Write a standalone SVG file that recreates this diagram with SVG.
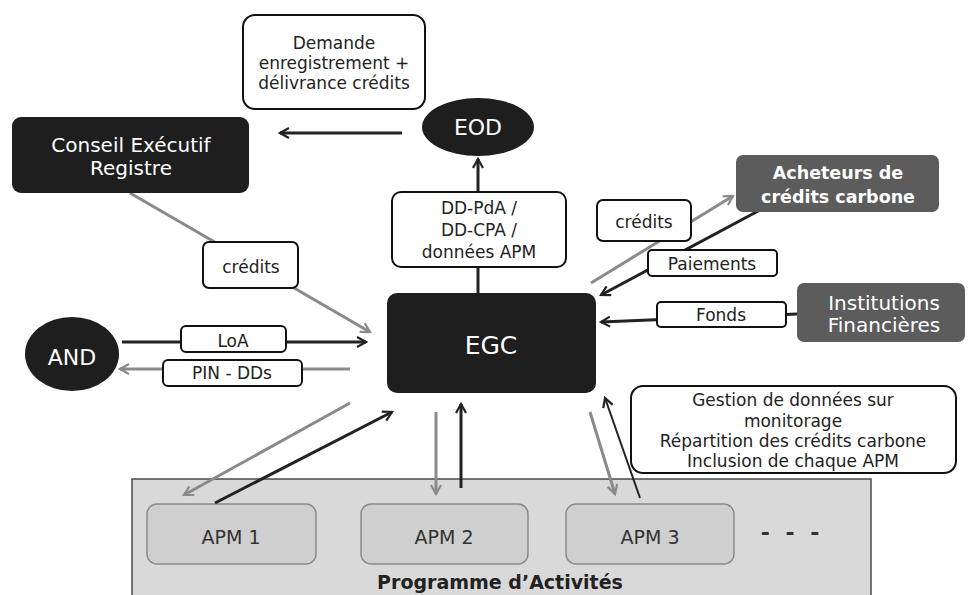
<svg xmlns="http://www.w3.org/2000/svg" width="968" height="595" viewBox="0 0 968 595">
<defs>
<marker id="ad" viewBox="0 0 12 12" refX="10" refY="6" markerWidth="12" markerHeight="12" markerUnits="userSpaceOnUse" orient="auto"><path d="M1,1 L10,6 L1,11" fill="none" stroke="#222" stroke-width="2.2"/></marker>
<marker id="ag" viewBox="0 0 12 12" refX="10" refY="6" markerWidth="12" markerHeight="12" markerUnits="userSpaceOnUse" orient="auto"><path d="M1,1 L10,6 L1,11" fill="none" stroke="#8a8a8a" stroke-width="2.2"/></marker>
</defs>
<style>
text{font-family:"DejaVu Sans","Liberation Sans",sans-serif;text-anchor:middle}
.lbl{fill:#fff;stroke:#111;stroke-width:2}
.lt{font-size:17px;fill:#222}
.dark{fill:#1e1e1e}
.grey{fill:#5c5c5c}
.wt{fill:#fff}
.cd{stroke:#222;stroke-width:3;fill:none}
.cg{stroke:#8a8a8a;stroke-width:3;fill:none}
.apm{fill:#cfcfcf;stroke:#8a8a8a;stroke-width:1.5}
</style>
<rect width="968" height="595" fill="#fff"/>

<g id="programme">
<rect x="132" y="479" width="739" height="125" fill="#d9d9d9" stroke="#4a4a4a" stroke-width="1.5"/>
<text x="500" y="589" font-size="19" font-weight="bold" fill="#222">Programme d’Activités</text>
</g>
<g id="apm1"><rect class="apm" x="147" y="504" width="169" height="60" rx="10"/><text x="231" y="544" font-size="19" fill="#333">APM 1</text></g>
<g id="apm2"><rect class="apm" x="361" y="504" width="167" height="60" rx="10"/><text x="444" y="544" font-size="19" fill="#333">APM 2</text></g>
<g id="apm3"><rect class="apm" x="566" y="504" width="168" height="60" rx="10"/><text x="650" y="544" font-size="19" fill="#333">APM 3</text></g>
<g id="dots"><text x="792" y="540" font-size="22" font-weight="bold" fill="#333" letter-spacing="4">- - -</text></g>

<g id="connectors">
<line class="cd" x1="402" y1="133" x2="280" y2="133" marker-end="url(#ad)"/>
<line class="cd" x1="478" y1="293" x2="478" y2="159" marker-end="url(#ad)"/>
<line class="cg" x1="130" y1="193" x2="370" y2="332" marker-end="url(#ag)"/>
<line class="cd" x1="122" y1="342" x2="366" y2="342" marker-end="url(#ad)"/>
<line class="cg" x1="350" y1="369" x2="120" y2="369" marker-end="url(#ag)"/>
<line class="cg" x1="591" y1="283" x2="733" y2="196" marker-end="url(#ag)"/>
<line class="cd" x1="760" y1="210" x2="601" y2="295" marker-end="url(#ad)"/>
<line class="cd" x1="797" y1="314" x2="601" y2="322" marker-end="url(#ad)"/>
<line class="cg" x1="350" y1="403" x2="184" y2="495" marker-end="url(#ag)"/>
<line class="cd" x1="215" y1="503" x2="392" y2="412" marker-end="url(#ad)"/>
<line class="cg" x1="436" y1="412" x2="436" y2="494" marker-end="url(#ag)"/>
<line class="cd" x1="461" y1="488" x2="461" y2="404" marker-end="url(#ad)"/>
<line class="cg" x1="590" y1="412" x2="615" y2="494" marker-end="url(#ag)"/>
<line x1="640" y1="498" x2="605" y2="398" stroke="#222" stroke-width="2" marker-end="url(#ad)"/>
</g>

<g id="demande"><rect class="lbl" x="243" y="15" width="182" height="94" rx="12"/>
<text class="lt" x="334" y="49">Demande</text><text class="lt" x="334" y="69">enregistrement +</text><text class="lt" x="334" y="89">délivrance crédits</text></g>

<g id="conseil"><rect class="dark" x="12" y="117" width="237" height="76" rx="9"/>
<text class="wt" x="131" y="152" font-size="20">Conseil Exécutif</text><text class="wt" x="131" y="175" font-size="20">Registre</text></g>

<g id="eod"><ellipse class="dark" cx="478" cy="127" rx="56" ry="29"/><text class="wt" x="478" y="135" font-size="22">EOD</text></g>

<g id="lbl-dd"><rect class="lbl" x="392" y="192" width="174" height="75" rx="9"/>
<text class="lt" x="479" y="214">DD-PdA /</text><text class="lt" x="479" y="236">DD-CPA /</text><text class="lt" x="479" y="258">données APM</text></g>

<g id="acheteurs"><rect class="grey" x="736" y="155" width="203" height="57" rx="7"/>
<text class="wt" x="838" y="179" font-size="17.5" font-weight="bold">Acheteurs de</text><text class="wt" x="838" y="203" font-size="17.5" font-weight="bold">crédits carbone</text></g>

<g id="lbl-credits2"><rect class="lbl" x="597" y="200" width="94" height="41" rx="6"/><text class="lt" x="644" y="228">crédits</text></g>
<g id="lbl-paiements"><rect class="lbl" x="648" y="250" width="129" height="26" rx="4"/><text class="lt" x="712" y="270">Paiements</text></g>

<g id="institutions"><rect class="grey" x="797" y="283" width="168" height="59" rx="7"/>
<text class="wt" x="884" y="310" font-size="20">Institutions</text><text class="wt" x="884" y="332" font-size="20">Financières</text></g>
<g id="lbl-fonds"><rect class="lbl" x="657" y="302" width="129" height="25" rx="4"/><text class="lt" x="721" y="321">Fonds</text></g>

<g id="egc"><rect class="dark" x="387" y="293" width="209" height="100" rx="10"/><text class="wt" x="491" y="354" font-size="25">EGC</text></g>

<g id="lbl-credits1"><rect class="lbl" x="203" y="242" width="95" height="46" rx="6"/><text class="lt" x="251" y="273">crédits</text></g>

<g id="and"><ellipse class="dark" cx="72" cy="354" rx="47" ry="37"/><text class="wt" x="72" y="365" font-size="22">AND</text></g>
<g id="lbl-loa"><rect class="lbl" x="181" y="326" width="105" height="26" rx="5"/><text class="lt" x="233" y="347">LoA</text></g>
<g id="lbl-pin"><rect class="lbl" x="163" y="360" width="139" height="26" rx="5"/><text class="lt" x="232" y="379">PIN - DDs</text></g>

<g id="gestion"><rect class="lbl" x="631" y="386" width="325" height="87" rx="12"/>
<text class="lt" x="793" y="406">Gestion de données sur</text><text class="lt" x="793" y="427">monitorage</text><text class="lt" x="793" y="447">Répartition des crédits carbone</text><text class="lt" x="793" y="467">Inclusion de chaque APM</text></g>
</svg>
